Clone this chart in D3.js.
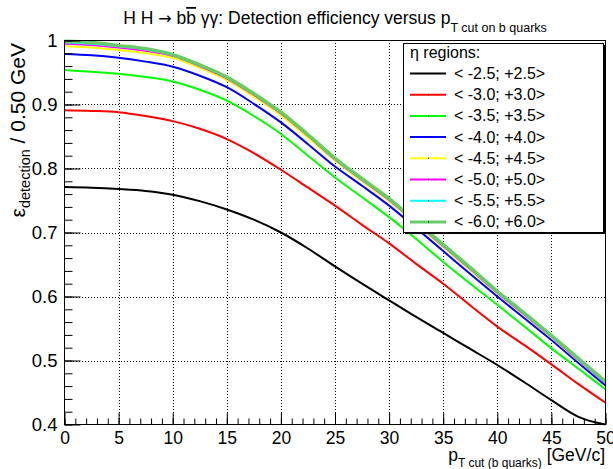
<!DOCTYPE html>
<html>
<head>
<meta charset="utf-8">
<title>HH to bb yy: detection efficiency</title>
<script src="https://cdn.jsdelivr.net/npm/d3@7"></script>
<style>
body { margin: 0; background: #fff; }
svg text { font-family: "Liberation Sans", Arial, Helvetica, sans-serif; fill: #000; }
</style>
</head>
<body>
<div id="chart"></div>
<script>
// pT cut on b quarks [GeV/c], read every 2.5 GeV off the picture
var ptCut = [0, 2.5, 5, 7.5, 10, 12.5, 15, 17.5, 20, 22.5, 25, 27.5, 30, 32.5, 35, 37.5, 40, 42.5, 45, 47.5, 50];

var etaLabels = ["< -2.5; +2.5>", "< -3.0; +3.0>", "< -3.5; +3.5>", "< -4.0; +4.0>",
                 "< -4.5; +4.5>", "< -5.0; +5.0>", "< -5.5; +5.5>", "< -6.0; +6.0>"];

var effEta25 = [0.771, 0.770, 0.768, 0.765, 0.759, 0.749, 0.736, 0.720, 0.700, 0.675, 0.647, 0.620, 0.594, 0.568, 0.543, 0.518, 0.493, 0.466, 0.438, 0.412, 0.382];
var effEta30 = [0.891, 0.890, 0.888, 0.882, 0.874, 0.862, 0.846, 0.824, 0.798, 0.770, 0.742, 0.712, 0.683, 0.651, 0.620, 0.586, 0.553, 0.524, 0.494, 0.463, 0.434];
var effEta35 = [0.954, 0.951, 0.948, 0.943, 0.936, 0.923, 0.906, 0.882, 0.854, 0.820, 0.786, 0.755, 0.724, 0.690, 0.654, 0.620, 0.587, 0.553, 0.519, 0.487, 0.455];
var effEta40 = [0.979, 0.977, 0.973, 0.967, 0.959, 0.945, 0.927, 0.901, 0.872, 0.838, 0.803, 0.773, 0.742, 0.707, 0.671, 0.635, 0.600, 0.566, 0.532, 0.496, 0.461];
var effEta45 = [0.991, 0.989, 0.985, 0.980, 0.973, 0.957, 0.938, 0.912, 0.883, 0.848, 0.812, 0.780, 0.749, 0.713, 0.677, 0.641, 0.605, 0.571, 0.536, 0.500, 0.465];
var effEta50 = [0.995, 0.993, 0.989, 0.984, 0.976, 0.960, 0.941, 0.915, 0.886, 0.851, 0.814, 0.782, 0.751, 0.715, 0.679, 0.643, 0.606, 0.572, 0.537, 0.501, 0.465];
var effEta55 = [0.997, 0.995, 0.991, 0.986, 0.977, 0.961, 0.942, 0.916, 0.887, 0.852, 0.815, 0.783, 0.752, 0.716, 0.680, 0.644, 0.607, 0.573, 0.538, 0.502, 0.466];
var effEta60 = [0.999, 0.997, 0.992, 0.987, 0.978, 0.962, 0.943, 0.917, 0.888, 0.853, 0.816, 0.784, 0.753, 0.717, 0.681, 0.645, 0.608, 0.574, 0.539, 0.503, 0.467];

var xTicks = [0, 5, 10, 15, 20, 25, 30, 35, 40, 45, 50];
var yTicks = [0.4, 0.5, 0.6, 0.7, 0.8, 0.9, 1.0];

var series = [effEta25, effEta30, effEta35, effEta40, effEta45, effEta50, effEta55, effEta60];
var colors = ["#000000", "#ff0000", "#00ff00", "#0000ff", "#ffff00", "#ff00ff", "#00ffff", "#66cc66"];
var widths = [2, 2, 2, 2, 2, 2, 2, 3.5];

var W = 613, H = 469;
var padL = 64, padT = 40, pw = 542, ph = 385;

var svg = d3.select("#chart").append("svg").attr("width", W).attr("height", H);

var x = d3.scaleLinear().domain([0, 50]).range([0.5, pw - 0.5]);
var y = d3.scaleLinear().domain([0.4, 1.0]).range([ph - 0.5, 0.5]).clamp(true);

var g = svg.append("g").attr("transform", "translate(" + padL + "," + padT + ")");

// grid
g.selectAll("line.gx").data(xTicks.slice(1, -1)).enter().append("line")
  .attr("x1", function(d) { return Math.round(x(d)) + 0.5; })
  .attr("x2", function(d) { return Math.round(x(d)) + 0.5; })
  .attr("y1", 0).attr("y2", ph)
  .attr("stroke", "#000").attr("stroke-dasharray", "1,2").attr("stroke-width", 1);
g.selectAll("line.gy").data(yTicks.slice(1, -1)).enter().append("line")
  .attr("y1", function(d) { return Math.round(y(d)) + 0.5; })
  .attr("y2", function(d) { return Math.round(y(d)) + 0.5; })
  .attr("x1", 0).attr("x2", pw)
  .attr("stroke", "#000").attr("stroke-dasharray", "1,2").attr("stroke-width", 1);

// curves
var line = d3.line()
  .x(function(d) { return x(d[0]); })
  .y(function(d) { return y(d[1]); })
  .curve(d3.curveMonotoneX);

series.forEach(function(s, i) {
  g.append("path")
    .datum(ptCut.map(function(p, j) { return [p, s[j]]; }))
    .attr("d", line)
    .attr("fill", "none")
    .attr("stroke", colors[i])
    .attr("stroke-width", widths[i])
    .attr("stroke-linejoin", "round");
});

// axes: ticks point inward like ROOT
var xMinor = d3.range(0, 51, 1);
var yMinor = d3.range(0.4, 1.001, 0.02);

g.append("g").attr("transform", "translate(0," + (ph - 0.5) + ")")
  .call(d3.axisBottom(x).tickValues(xMinor).tickSize(-6).tickFormat(""));
g.append("g").attr("class", "xlab").attr("transform", "translate(0," + (ph - 0.5) + ")")
  .call(d3.axisBottom(x).tickValues(xTicks).tickSize(-11.5).tickPadding(7).tickFormat(d3.format("d")));
g.append("g").attr("transform", "translate(0.5,0)")
  .call(d3.axisLeft(y).tickValues(yMinor).tickSize(-8).tickFormat(""));
g.append("g").attr("class", "ylab").attr("transform", "translate(0.5,0)")
  .call(d3.axisLeft(y).tickValues(yTicks).tickSize(-16).tickPadding(7)
  .tickFormat(function(d) { return d === 1 ? "1" : d3.format(".1f")(d); }));

svg.selectAll(".domain").remove();
svg.selectAll(".tick text").attr("font-family", null);
svg.selectAll(".xlab .tick text").attr("font-size", 17.5);
svg.selectAll(".ylab .tick text").attr("font-size", 18.5);
svg.selectAll(".tick line").attr("stroke", "#000");

g.append("rect").attr("x", 0.5).attr("y", 0.5).attr("width", pw - 1).attr("height", ph - 1)
  .attr("fill", "none").attr("stroke", "#000");

// legend
var lg = svg.append("g");
lg.append("rect").attr("x", 405).attr("y", 45).attr("width", 200).attr("height", 189).attr("fill", "#000");
lg.append("rect").attr("x", 403.5).attr("y", 43.5).attr("width", 200).attr("height", 189)
  .attr("fill", "#fff").attr("stroke", "#000");
lg.append("text").attr("x", 410).attr("y", 58).attr("font-size", 16).text("\u03b7 regions:");
etaLabels.forEach(function(lab, i) {
  var yy = 73.5 + i * 21.2;
  lg.append("line").attr("x1", 410).attr("x2", 446).attr("y1", yy).attr("y2", yy)
    .attr("stroke", colors[i]).attr("stroke-width", i === 7 ? 3 : 2);
  lg.append("rect").attr("x", 428).attr("y", yy - 0.5).attr("width", 1).attr("height", 1).attr("fill", "#000");
  lg.append("text").attr("x", 454).attr("y", yy + 5.5).attr("font-size", 16).text(lab);
});

// title
var t = svg.append("text").attr("x", 335).attr("y", 24).attr("text-anchor", "middle").attr("font-size", 17.5);
t.append("tspan").text("H H ");
t.append("tspan").attr("font-family", "DejaVu Sans").attr("font-size", 16).text("\u2192");
t.append("tspan").text(" b");
t.append("tspan").style("text-decoration", "overline").text("b");
t.append("tspan").text(" \u03b3\u03b3: Detection efficiency versus p");
t.append("tspan").attr("dy", 8).attr("font-size", 12.5).text("T cut on b quarks");

// y title
var yt = svg.append("text").attr("transform", "translate(25,43) rotate(-90)")
  .attr("text-anchor", "end").attr("font-size", 21);
yt.append("tspan").text("\u03b5");
yt.append("tspan").attr("dy", 5).attr("font-size", 14.5).text("detection");
yt.append("tspan").attr("dy", -5).text(" / 0.50 GeV");

// x title
var xt = svg.append("text").attr("x", 605).attr("y", 461).attr("text-anchor", "end").attr("font-size", 17.5);
xt.append("tspan").text("p");
xt.append("tspan").attr("dy", 6).attr("font-size", 12).text("T cut (b quarks)");
xt.append("tspan").attr("dy", -6).text(" [GeV/c]");
</script>
</body>
</html>
